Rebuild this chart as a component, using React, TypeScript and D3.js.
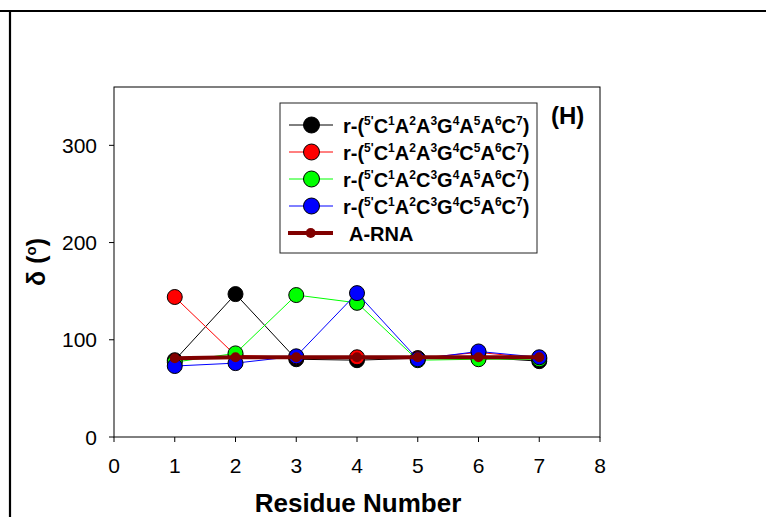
import React from "react";
import * as d3 from "d3";

const residues = [1, 2, 3, 4, 5, 6, 7];
const blackVals = [79, 147, 80, 79, 81, 82, 78];
const redVals = [144, 84, 82, 82, 81, 87, 81];
const greenVals = [77, 86, 146, 138, 79, 80, 80];
const blueVals = [73, 76, 83, 148, 80, 88, 82];
const aRnaVals = [81, 82, 82, 82, 82, 82, 82];
const xTicks = [0, 1, 2, 3, 4, 5, 6, 7, 8];
const yTicks = [0, 100, 200, 300];

// legend label parts: [main text, superscript]
const seqBlack = [["r-(", "5'"], ["C", "1"], ["A", "2"], ["A", "3"], ["G", "4"], ["A", "5"], ["A", "6"], ["C", "7"], [")", ""]];
const seqRed = [["r-(", "5'"], ["C", "1"], ["A", "2"], ["A", "3"], ["G", "4"], ["C", "5"], ["A", "6"], ["C", "7"], [")", ""]];
const seqGreen = [["r-(", "5'"], ["C", "1"], ["A", "2"], ["C", "3"], ["G", "4"], ["A", "5"], ["A", "6"], ["C", "7"], [")", ""]];
const seqBlue = [["r-(", "5'"], ["C", "1"], ["A", "2"], ["C", "3"], ["G", "4"], ["C", "5"], ["A", "6"], ["C", "7"], [")", ""]];

const series = [
  { name: "black", values: blackVals, color: "#000000", label: seqBlack },
  { name: "red", values: redVals, color: "#ff0000", label: seqRed },
  { name: "green", values: greenVals, color: "#00ff00", label: seqGreen },
  { name: "blue", values: blueVals, color: "#0000ff", label: seqBlue },
];

const FONT = "'Liberation Sans', Arial, Helvetica, sans-serif";

export default function App() {
  const W = 766, H = 517;
  const x = d3.scaleLinear().domain([0, 8]).range([114, 600]);
  const y = d3.scaleLinear().domain([0, 360]).range([437, 87]);
  const line = d3.line<number>().x((_, i) => x(residues[i])).y((v) => y(v));

  const legX = 280, legY = 103, legW = 257, legH = 150;
  const rowY = (i: number) => 125 + i * 27;

  return (
    <svg width={W} height={H} style={{ position: "absolute", left: 0, top: 0, background: "#fff" }} fontFamily={FONT}>
      <rect x={0} y={0} width={W} height={H} fill="#fff" />
      {/* outer frame lines */}
      <line x1={0} x2={W} y1={11} y2={11} stroke="#000" strokeWidth={2.2} />
      <line x1={10} x2={10} y1={11} y2={H} stroke="#000" strokeWidth={2.2} />

      {/* plot box */}
      <rect x={x(0)} y={y(360)} width={x(8) - x(0)} height={y(0) - y(360)} fill="none" stroke="#000" strokeWidth={1} />

      {/* x ticks */}
      {xTicks.map((t) => (
        <g key={"xt" + t}>
          <line x1={x(t)} x2={x(t)} y1={y(0)} y2={y(0) + 5} stroke="#000" strokeWidth={1} />
          <text x={x(t)} y={473} textAnchor="middle" fontSize={21} fill="#000">{t}</text>
        </g>
      ))}
      {/* y ticks */}
      {yTicks.map((t) => (
        <g key={"yt" + t}>
          <line x1={x(0) - 5} x2={x(0)} y1={y(t)} y2={y(t)} stroke="#000" strokeWidth={1} />
          <text x={97} y={y(t) + 7.5} textAnchor="end" fontSize={21} fill="#000">{t}</text>
        </g>
      ))}

      {/* axis titles */}
      <text x={358} y={512} textAnchor="middle" fontSize={26} fontWeight="bold" fill="#000">Residue Number</text>
      <text transform="translate(45,262) rotate(-90)" textAnchor="middle" fontSize={25} fontWeight="bold" fill="#000">
        δ (<tspan fontSize={15} dy={-9}>o</tspan><tspan dy={9}>)</tspan>
      </text>

      {/* series */}
      {series.map((s) => (
        <g key={s.name}>
          <path d={line(s.values) || ""} fill="none" stroke={s.color} strokeWidth={1} />
          {s.values.map((v, i) => (
            <circle key={i} cx={x(residues[i])} cy={y(v)} r={7.5} fill={s.color} stroke="#000" strokeWidth={1} />
          ))}
        </g>
      ))}
      <g>
        <path d={line(aRnaVals) || ""} fill="none" stroke="#800000" strokeWidth={4} />
        {aRnaVals.map((v, i) => (
          <circle key={i} cx={x(residues[i])} cy={y(v)} r={5} fill="#800000" />
        ))}
      </g>

      {/* legend */}
      <rect x={legX} y={legY} width={legW} height={legH} fill="#fff" stroke="#222" strokeWidth={1} />
      {series.map((s, i) => (
        <g key={"leg" + s.name}>
          <line x1={289} x2={333} y1={rowY(i)} y2={rowY(i)} stroke={s.color} strokeWidth={1} />
          <circle cx={311.5} cy={rowY(i)} r={8} fill={s.color} stroke="#000" strokeWidth={1} />
          <text x={343} y={rowY(i) + 7.5} fontSize={20} fontWeight="bold" fill="#000">
            {s.label.map((p, j) => (
              <React.Fragment key={j}>
                <tspan dy={j === 0 ? 0 : 8}>{p[0]}</tspan>
                {p[1] ? <tspan fontSize={12} dy={-8}>{p[1]}</tspan> : <tspan dy={-8}></tspan>}
              </React.Fragment>
            ))}
          </text>
        </g>
      ))}
      <g>
        <line x1={288} x2={333} y1={rowY(4)} y2={rowY(4)} stroke="#800000" strokeWidth={4} />
        <circle cx={310.7} cy={rowY(4)} r={5} fill="#800000" />
        <text x={349} y={rowY(4) + 7.5} fontSize={20} fontWeight="bold" fill="#000">A-RNA</text>
      </g>

      <text x={551} y={124} fontSize={24} fontWeight="bold" fill="#000">(H)</text>
    </svg>
  );
}
